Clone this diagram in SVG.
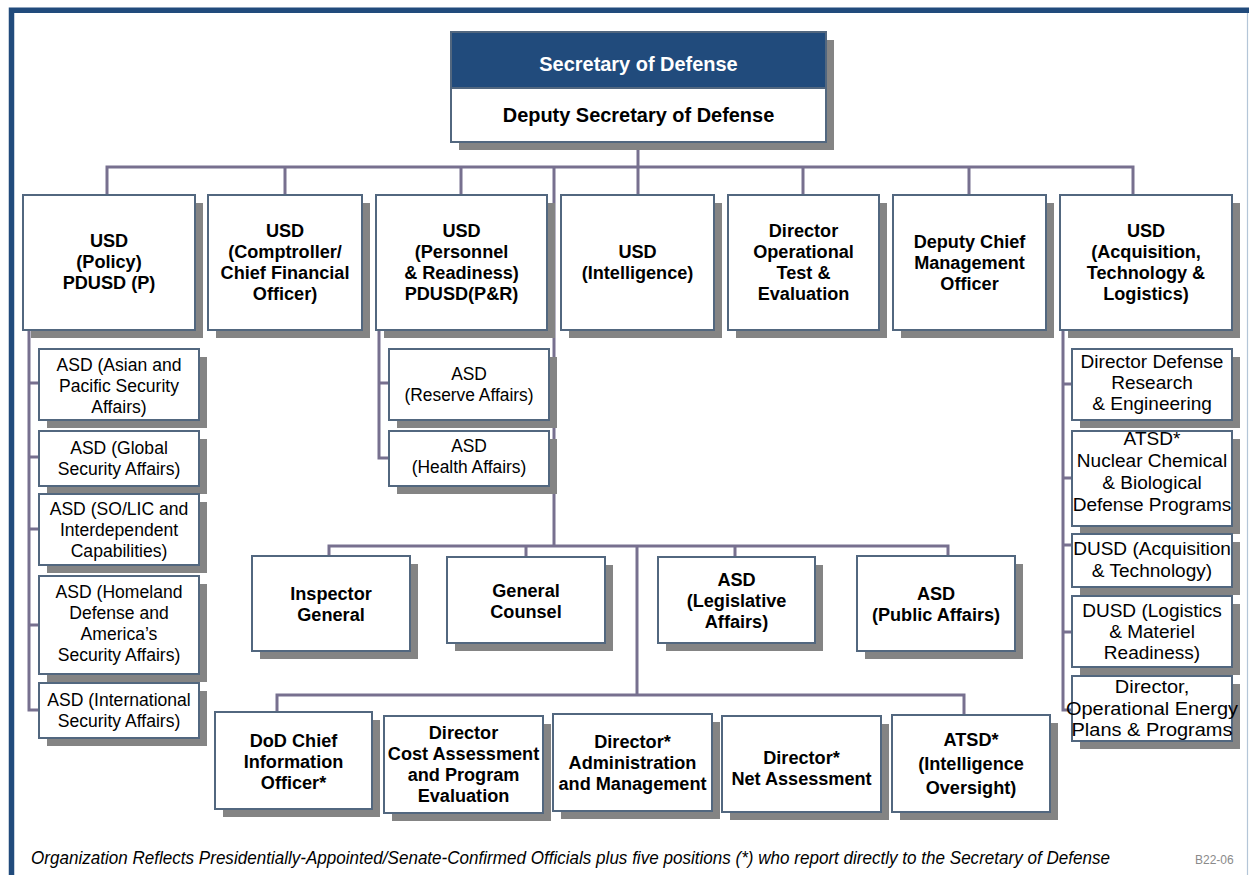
<svg xmlns="http://www.w3.org/2000/svg" width="1249" height="875" viewBox="0 0 1249 875">
<style>
.bg{fill:#fff}
.sh{fill:#848484}
.bx{fill:#fff;stroke:#52677f;stroke-width:2}
.hd{fill:#214b7c;stroke:#52677f;stroke-width:2}
.t{font-family:"Liberation Sans",Arial,sans-serif;font-weight:bold;font-size:21px;text-anchor:middle;fill:#000}
.b{font-family:"Liberation Sans",Arial,sans-serif;font-weight:bold;font-size:18.5px;text-anchor:middle;fill:#000}
.r{font-family:"Liberation Sans",Arial,sans-serif;font-size:18.5px;text-anchor:middle;fill:#000}
.w{fill:#fff}
.cn{fill:none;stroke:#77708f;stroke-width:3}
.ft{font-family:"Liberation Sans",Arial,sans-serif;font-style:italic;font-size:18px;fill:#000}
.code{font-family:"Liberation Sans",Arial,sans-serif;font-size:12px;fill:#8a8a8a}
</style>
<rect class="bg" x="0" y="0" width="1249" height="875"/>
<g id="frame">
<path d="M11.5 875 V10.3 H1249" fill="none" stroke="#214b7c" stroke-width="5.5"/>
<line x1="1247.5" y1="13" x2="1247.5" y2="875" stroke="#b4c6d8" stroke-width="1.2"/>
</g>
<g id="connectors">
<path class="cn" d="M638 142 V167"/>
<path class="cn" d="M107 195 V167 H1133 V195"/>
<path class="cn" d="M285 167 V195 M461 167 V195 M638 167 V195 M803 167 V195 M969 167 V195"/>
<path class="cn" d="M554 167 V546"/>
<path class="cn" d="M29 330 V710 H39 M29 383 H39 M29 457 H39 M29 529 H39 M29 625 H39"/>
<path class="cn" d="M379 330 V458 H389 M379 383 H389"/>
<path class="cn" d="M1063 330 V710 H1072 M1063 384 H1072 M1063 478 H1072 M1063 545 H1072 M1063 632 H1072"/>
<path class="cn" d="M329 556 V546 H948 V556 M526 546 V557 M735 546 V557"/>
<path class="cn" d="M637 546 V695"/>
<path class="cn" d="M277 712 V695 H964 V715"/>
</g>
<g id="secdef">
<rect class="sh" x="459" y="40" width="375" height="110"/>
<rect class="hd" x="451" y="32" width="375" height="56"/>
<rect class="bx" x="451" y="88" width="375" height="54"/>
<g transform="translate(638.5 0) scale(0.95 1)">
<text class="t w" x="0" y="71">Secretary of Defense</text>
<text class="t" x="0" y="122">Deputy Secretary of Defense</text>
</g>
</g>
<g id="usd-policy">
<rect class="sh" x="31" y="203" width="172" height="135"/>
<rect class="bx" x="23" y="195" width="172" height="135"/>
<g transform="translate(109 0) scale(0.98 1)"><text class="b"><tspan x="0" y="247">USD</tspan><tspan x="0" y="268">(Policy)</tspan><tspan x="0" y="289">PDUSD (P)</tspan></text></g>
</g>
<g id="usd-comptroller">
<rect class="sh" x="216" y="203" width="154" height="135"/>
<rect class="bx" x="208" y="195" width="154" height="135"/>
<g transform="translate(285 0) scale(0.98 1)"><text class="b"><tspan x="0" y="237">USD</tspan><tspan x="0" y="258">(Comptroller/</tspan><tspan x="0" y="279">Chief Financial</tspan><tspan x="0" y="300">Officer)</tspan></text></g>
</g>
<g id="usd-personnel">
<rect class="sh" x="384" y="203" width="171" height="135"/>
<rect class="bx" x="376" y="195" width="171" height="135"/>
<g transform="translate(461.5 0) scale(0.98 1)"><text class="b"><tspan x="0" y="237">USD</tspan><tspan x="0" y="258">(Personnel</tspan><tspan x="0" y="279">&amp; Readiness)</tspan><tspan x="0" y="300">PDUSD(P&amp;R)</tspan></text></g>
</g>
<g id="usd-intelligence">
<rect class="sh" x="569" y="203" width="153" height="135"/>
<rect class="bx" x="561" y="195" width="153" height="135"/>
<g transform="translate(637.5 0) scale(0.98 1)"><text class="b"><tspan x="0" y="258">USD</tspan><tspan x="0" y="279">(Intelligence)</tspan></text></g>
</g>
<g id="dir-ote">
<rect class="sh" x="736" y="203" width="151" height="135"/>
<rect class="bx" x="728" y="195" width="151" height="135"/>
<g transform="translate(803.5 0) scale(0.98 1)"><text class="b"><tspan x="0" y="237">Director</tspan><tspan x="0" y="258">Operational</tspan><tspan x="0" y="279">Test &amp;</tspan><tspan x="0" y="300">Evaluation</tspan></text></g>
</g>
<g id="dcmo">
<rect class="sh" x="901" y="203" width="153" height="135"/>
<rect class="bx" x="893" y="195" width="153" height="135"/>
<g transform="translate(969.5 0) scale(0.98 1)"><text class="b"><tspan x="0" y="248">Deputy Chief</tspan><tspan x="0" y="269">Management</tspan><tspan x="0" y="290">Officer</tspan></text></g>
</g>
<g id="usd-atl">
<rect class="sh" x="1068" y="203" width="172" height="135"/>
<rect class="bx" x="1060" y="195" width="172" height="135"/>
<g transform="translate(1146 0) scale(0.98 1)"><text class="b"><tspan x="0" y="237">USD</tspan><tspan x="0" y="258">(Acquisition,</tspan><tspan x="0" y="279">Technology &amp;</tspan><tspan x="0" y="300">Logistics)</tspan></text></g>
</g>
<g id="asd-asian-pacific">
<rect class="sh" x="47" y="357" width="160" height="71"/>
<rect class="bx" x="39" y="349" width="160" height="71"/>
<g transform="translate(119 0) scale(0.95 1)"><text class="r"><tspan x="0" y="371">ASD (Asian and</tspan><tspan x="0" y="392">Pacific Security</tspan><tspan x="0" y="413">Affairs)</tspan></text></g>
</g>
<g id="asd-global">
<rect class="sh" x="47" y="439" width="160" height="55"/>
<rect class="bx" x="39" y="431" width="160" height="55"/>
<g transform="translate(119 0) scale(0.95 1)"><text class="r"><tspan x="0" y="454">ASD (Global</tspan><tspan x="0" y="475">Security Affairs)</tspan></text></g>
</g>
<g id="asd-solic">
<rect class="sh" x="47" y="502" width="160" height="71"/>
<rect class="bx" x="39" y="494" width="160" height="71"/>
<g transform="translate(119 0) scale(0.95 1)"><text class="r"><tspan x="0" y="515">ASD (SO/LIC and</tspan><tspan x="0" y="536">Interdependent</tspan><tspan x="0" y="557">Capabilities)</tspan></text></g>
</g>
<g id="asd-homeland">
<rect class="sh" x="47" y="584" width="160" height="98"/>
<rect class="bx" x="39" y="576" width="160" height="98"/>
<g transform="translate(119 0) scale(0.95 1)"><text class="r"><tspan x="0" y="598">ASD (Homeland</tspan><tspan x="0" y="619">Defense and</tspan><tspan x="0" y="640">America’s</tspan><tspan x="0" y="661">Security Affairs)</tspan></text></g>
</g>
<g id="asd-international">
<rect class="sh" x="47" y="691" width="160" height="55"/>
<rect class="bx" x="39" y="683" width="160" height="55"/>
<g transform="translate(119 0) scale(0.95 1)"><text class="r"><tspan x="0" y="706">ASD (International</tspan><tspan x="0" y="727">Security Affairs)</tspan></text></g>
</g>
<g id="asd-reserve">
<rect class="sh" x="397" y="357" width="160" height="71"/>
<rect class="bx" x="389" y="349" width="160" height="71"/>
<g transform="translate(469 0) scale(0.94 1)"><text class="r"><tspan x="0" y="380">ASD</tspan><tspan x="0" y="401">(Reserve Affairs)</tspan></text></g>
</g>
<g id="asd-health">
<rect class="sh" x="397" y="439" width="160" height="55"/>
<rect class="bx" x="389" y="431" width="160" height="55"/>
<g transform="translate(469 0) scale(0.94 1)"><text class="r"><tspan x="0" y="452">ASD</tspan><tspan x="0" y="473">(Health Affairs)</tspan></text></g>
</g>
<g id="dir-ddre">
<rect class="sh" x="1080" y="357" width="160" height="71"/>
<rect class="bx" x="1072" y="349" width="160" height="71"/>
<g transform="translate(1152 0) scale(1.03 1)"><text class="r"><tspan x="0" y="368">Director Defense</tspan><tspan x="0" y="389">Research</tspan><tspan x="0" y="410">&amp; Engineering</tspan></text></g>
</g>
<g id="atsd-ncb">
<rect class="sh" x="1080" y="439" width="160" height="95"/>
<rect class="bx" x="1072" y="431" width="160" height="95"/>
<g transform="translate(1152 0) scale(1.03 1)"><text class="r"><tspan x="0" y="445">ATSD*</tspan><tspan x="0" y="467">Nuclear Chemical</tspan><tspan x="0" y="489">&amp; Biological</tspan><tspan x="0" y="511">Defense Programs</tspan></text></g>
</g>
<g id="dusd-at">
<rect class="sh" x="1080" y="542" width="160" height="53"/>
<rect class="bx" x="1072" y="534" width="160" height="53"/>
<g transform="translate(1152 0) scale(1.03 1)"><text class="r"><tspan x="0" y="555">DUSD (Acquisition</tspan><tspan x="0" y="577">&amp; Technology)</tspan></text></g>
</g>
<g id="dusd-lmr">
<rect class="sh" x="1080" y="604" width="160" height="71"/>
<rect class="bx" x="1072" y="596" width="160" height="71"/>
<g transform="translate(1152 0) scale(1.03 1)"><text class="r"><tspan x="0" y="617">DUSD (Logistics</tspan><tspan x="0" y="638">&amp; Materiel</tspan><tspan x="0" y="659">Readiness)</tspan></text></g>
</g>
<g id="dir-openergy">
<rect class="sh" x="1080" y="684" width="160" height="65"/>
<rect class="bx" x="1072" y="676" width="160" height="65"/>
<g transform="translate(1152 0) scale(1.08 1)"><text class="r"><tspan x="0" y="693">Director,</tspan><tspan x="0" y="715">Operational Energy</tspan><tspan x="0" y="736">Plans &amp; Programs</tspan></text></g>
</g>
<g id="inspector-general">
<rect class="sh" x="260" y="564" width="158" height="95"/>
<rect class="bx" x="252" y="556" width="158" height="95"/>
<g transform="translate(331 0) scale(0.98 1)"><text class="b"><tspan x="0" y="600">Inspector</tspan><tspan x="0" y="621">General</tspan></text></g>
</g>
<g id="general-counsel">
<rect class="sh" x="455" y="565" width="158" height="86"/>
<rect class="bx" x="447" y="557" width="158" height="86"/>
<g transform="translate(526 0) scale(0.98 1)"><text class="b"><tspan x="0" y="597">General</tspan><tspan x="0" y="618">Counsel</tspan></text></g>
</g>
<g id="asd-legislative">
<rect class="sh" x="666" y="565" width="157" height="86"/>
<rect class="bx" x="658" y="557" width="157" height="86"/>
<g transform="translate(736.5 0) scale(0.98 1)"><text class="b"><tspan x="0" y="586">ASD</tspan><tspan x="0" y="607">(Legislative</tspan><tspan x="0" y="628">Affairs)</tspan></text></g>
</g>
<g id="asd-public">
<rect class="sh" x="865" y="564" width="158" height="95"/>
<rect class="bx" x="857" y="556" width="158" height="95"/>
<g transform="translate(936 0) scale(0.98 1)"><text class="b"><tspan x="0" y="600">ASD</tspan><tspan x="0" y="621">(Public Affairs)</tspan></text></g>
</g>
<g id="dod-cio">
<rect class="sh" x="223" y="720" width="157" height="97"/>
<rect class="bx" x="215" y="712" width="157" height="97"/>
<g transform="translate(293.5 0) scale(0.98 1)"><text class="b"><tspan x="0" y="747">DoD Chief</tspan><tspan x="0" y="768">Information</tspan><tspan x="0" y="789">Officer*</tspan></text></g>
</g>
<g id="dir-cape">
<rect class="sh" x="392" y="724" width="159" height="97"/>
<rect class="bx" x="384" y="716" width="159" height="97"/>
<g transform="translate(463.5 0) scale(0.98 1)"><text class="b"><tspan x="0" y="739">Director</tspan><tspan x="0" y="760">Cost Assessment</tspan><tspan x="0" y="781">and Program</tspan><tspan x="0" y="802">Evaluation</tspan></text></g>
</g>
<g id="dir-am">
<rect class="sh" x="561" y="722" width="159" height="97"/>
<rect class="bx" x="553" y="714" width="159" height="97"/>
<g transform="translate(632.5 0) scale(0.98 1)"><text class="b"><tspan x="0" y="748">Director*</tspan><tspan x="0" y="769">Administration</tspan><tspan x="0" y="790">and Management</tspan></text></g>
</g>
<g id="dir-na">
<rect class="sh" x="730" y="724" width="159" height="96"/>
<rect class="bx" x="722" y="716" width="159" height="96"/>
<g transform="translate(801.5 0) scale(0.98 1)"><text class="b"><tspan x="0" y="764">Director*</tspan><tspan x="0" y="785">Net Assessment</tspan></text></g>
</g>
<g id="atsd-io">
<rect class="sh" x="900" y="723" width="158" height="97"/>
<rect class="bx" x="892" y="715" width="158" height="97"/>
<g transform="translate(971 0) scale(0.98 1)"><text class="b"><tspan x="0" y="746">ATSD*</tspan><tspan x="0" y="770">(Intelligence</tspan><tspan x="0" y="794">Oversight)</tspan></text></g>
</g>
<g id="footer">
<text class="ft" x="31" y="864" textLength="1079" lengthAdjust="spacingAndGlyphs">Organization Reflects Presidentially-Appointed/Senate-Confirmed Officials plus five positions (*) who report directly to the Secretary of Defense</text>
<text class="code" x="1195" y="864">B22-06</text>
</g>
</svg>
